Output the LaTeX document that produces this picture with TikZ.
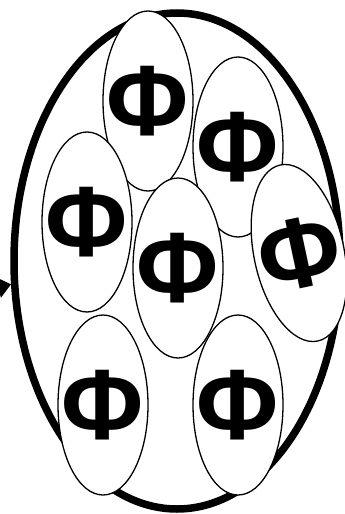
\documentclass[tikz,border=0pt]{standalone}
\usepackage{fontspec}
\setmainfont{Liberation Sans}
\usetikzlibrary{arrows.meta,shapes.geometric}
\begin{document}
\begin{tikzpicture}[x=1pt, y=-1pt,
  every label/.style={font=\fontsize{100}{100}\selectfont\bfseries, inner sep=0pt},
  cell/.style={draw, ellipse, fill=white, line width=1.3pt, inner sep=0pt,
    minimum width=90, minimum height=180, label=center:Φ}]
  \useasboundingbox (0,0) rectangle (345,514);
  \node[draw, ellipse, line width=7.5pt, minimum width=326, minimum height=496] (body) at (177,261) {};
  \coordinate (in) at (-40,297);
  \draw[line width=1pt, -{Triangle[length=13pt,width=21pt]}] (in) -- (body.188);
  \node[cell] (top) at (148,101) {};
  \node[cell] (upright) at (238,147) {};
  \node[cell] (left) at (87,222) {};
  \node[cell] (mid) at (178,268) {};
  \node[draw, ellipse, fill=white, line width=1.3pt, inner sep=0pt,
    minimum width=90, minimum height=180, rotate=12,
    label={[rotate=12]center:Φ}] (right) at (299,253) {};
  \node[cell] (lowleft) at (103,405) {};
  \node[cell] (lowright) at (238,405) {};
\end{tikzpicture}
\end{document}
